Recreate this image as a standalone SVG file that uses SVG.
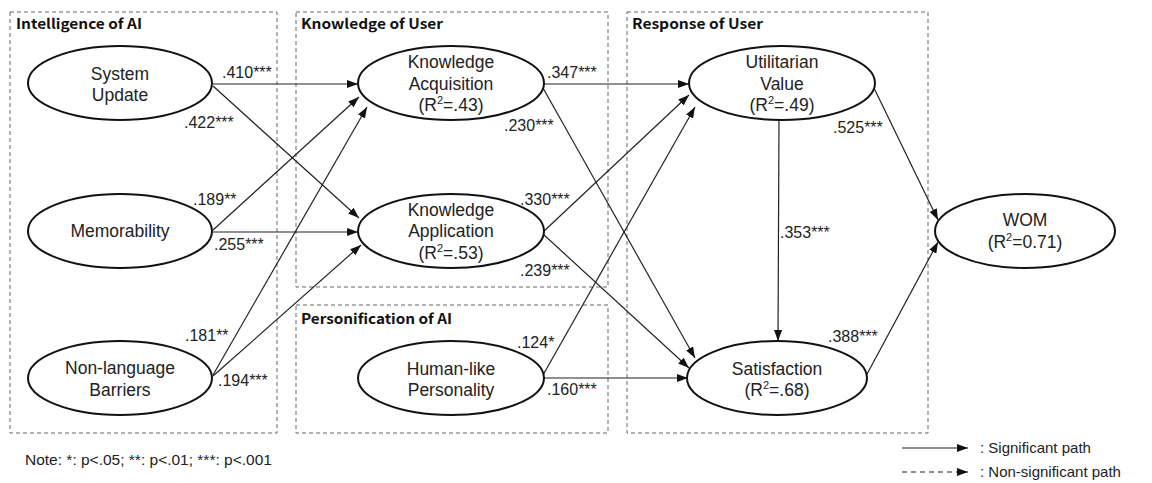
<svg xmlns="http://www.w3.org/2000/svg" width="1152" height="483" viewBox="0 0 1152 483">
  <defs>
    <marker id="arrow" markerUnits="userSpaceOnUse" markerWidth="11" markerHeight="8" refX="11" refY="4" orient="auto">
      <path d="M0,0 L11,4 L0,8 z" fill="#111"/>
    </marker>
    <style>
      .group-box { fill: none; stroke: #666; stroke-width: 1; stroke-dasharray: 4 3; }
      .group-title { font-family: "Noto Sans CJK KR", "Noto Sans", "Liberation Sans", sans-serif; font-weight: bold; font-size: 14px; fill: #111; }
      .node ellipse { fill: #fff; stroke: #111; stroke-width: 2; }
      .node text { font-family: "Liberation Sans", Arial, sans-serif; font-size: 17.5px; fill: #222; text-anchor: middle; }
      .sup { font-size: 11px; }
      .path { stroke: #222; stroke-width: 1.2; fill: none; marker-end: url(#arrow); }
      .path.ns { stroke-dasharray: 5 4; }
      .coef { font-family: "Liberation Sans", Arial, sans-serif; font-size: 16px; fill: #222; }
      .note { font-family: "Liberation Sans", Arial, sans-serif; font-size: 15.5px; fill: #222; }
      .legend-text { font-family: "Liberation Sans", Arial, sans-serif; font-size: 15px; fill: #222; }
    </style>
  </defs>

  <rect width="1152" height="483" fill="#fff"/>

  <!-- construct groupings -->
  <g id="groups">
    <rect class="group-box" x="10" y="12" width="267" height="421"/>
    <text class="group-title" x="16" y="29" textLength="126" lengthAdjust="spacingAndGlyphs">Intelligence of AI</text>
    <rect class="group-box" x="296" y="12" width="312" height="275"/>
    <text class="group-title" x="301" y="29" textLength="142" lengthAdjust="spacingAndGlyphs">Knowledge of User</text>
    <rect class="group-box" x="296" y="305" width="312" height="128"/>
    <text class="group-title" x="301" y="324" textLength="151" lengthAdjust="spacingAndGlyphs">Personification of AI</text>
    <rect class="group-box" x="627" y="12" width="301" height="421"/>
    <text class="group-title" x="632" y="29" textLength="131" lengthAdjust="spacingAndGlyphs">Response of User</text>
  </g>

  <!-- structural paths -->
  <g id="connectors">
    <line class="path" x1="213" y1="84" x2="358" y2="84"/>
    <line class="path" x1="213" y1="86" x2="359" y2="218"/>
    <line class="path" x1="213" y1="230" x2="359" y2="97"/>
    <line class="path" x1="213" y1="232" x2="358" y2="232"/>
    <line class="path" x1="213" y1="375" x2="367" y2="107"/>
    <line class="path" x1="213" y1="376" x2="361" y2="245"/>
    <line class="path" x1="543" y1="84" x2="689" y2="84"/>
    <line class="path" x1="543" y1="88" x2="695" y2="358"/>
    <line class="path" x1="543" y1="232" x2="689" y2="95"/>
    <line class="path" x1="543" y1="234" x2="689" y2="368"/>
    <line class="path" x1="543" y1="375" x2="695" y2="107"/>
    <line class="path" x1="543" y1="378" x2="688" y2="378"/>
    <line class="path" x1="779" y1="120" x2="778" y2="341"/>
    <line class="path" x1="874" y1="88" x2="938" y2="220"/>
    <line class="path" x1="866" y1="376" x2="938" y2="242"/>
  </g>

  <!-- path coefficients -->
  <g id="coefficients" class="coef">
    <text x="222" y="78">.410***</text>
    <text x="184" y="128">.422***</text>
    <text x="193" y="205">.189**</text>
    <text x="214" y="250">.255***</text>
    <text x="185" y="341">.181**</text>
    <text x="218" y="386">.194***</text>
    <text x="547" y="78">.347***</text>
    <text x="504" y="131">.230***</text>
    <text x="520" y="205">.330***</text>
    <text x="520" y="276">.239***</text>
    <text x="517" y="348">.124*</text>
    <text x="547" y="395">.160***</text>
    <text x="833" y="133">.525***</text>
    <text x="780" y="238">.353***</text>
    <text x="828" y="342">.388***</text>
  </g>

  <g id="system-update" class="node">
    <ellipse cx="120" cy="83" rx="92" ry="37"/>
    <text x="120" y="80">System</text>
    <text x="120" y="101">Update</text>
  </g>
  <g id="memorability" class="node">
    <ellipse cx="120" cy="231" rx="92" ry="37"/>
    <text x="120" y="237">Memorability</text>
  </g>
  <g id="non-language-barriers" class="node">
    <ellipse cx="120" cy="378" rx="92" ry="37"/>
    <text x="120" y="374">Non-language</text>
    <text x="120" y="396">Barriers</text>
  </g>
  <g id="knowledge-acquisition" class="node">
    <ellipse cx="451" cy="83" rx="93" ry="37"/>
    <text x="451" y="68">Knowledge</text>
    <text x="451" y="90">Acquisition</text>
    <text x="451" y="111">(R<tspan class="sup" dy="-7">2</tspan><tspan dy="7">=.43)</tspan></text>
  </g>
  <g id="knowledge-application" class="node">
    <ellipse cx="451" cy="231" rx="93" ry="37"/>
    <text x="451" y="216">Knowledge</text>
    <text x="451" y="237">Application</text>
    <text x="451" y="259">(R<tspan class="sup" dy="-7">2</tspan><tspan dy="7">=.53)</tspan></text>
  </g>
  <g id="human-like-personality" class="node">
    <ellipse cx="451" cy="378" rx="93" ry="37"/>
    <text x="451" y="375">Human-like</text>
    <text x="451" y="396">Personality</text>
  </g>
  <g id="utilitarian-value" class="node">
    <ellipse cx="782" cy="83" rx="93" ry="37"/>
    <text x="782" y="68">Utilitarian</text>
    <text x="782" y="90">Value</text>
    <text x="782" y="111">(R<tspan class="sup" dy="-7">2</tspan><tspan dy="7">=.49)</tspan></text>
  </g>
  <g id="satisfaction" class="node">
    <ellipse cx="777" cy="378" rx="90" ry="37"/>
    <text x="777" y="375">Satisfaction</text>
    <text x="777" y="396">(R<tspan class="sup" dy="-7">2</tspan><tspan dy="7">=.68)</tspan></text>
  </g>
  <g id="wom" class="node">
    <ellipse cx="1025" cy="231" rx="90" ry="37"/>
    <text x="1025" y="226">WOM</text>
    <text x="1025" y="248">(R<tspan class="sup" dy="-7">2</tspan><tspan dy="7">=0.71)</tspan></text>
  </g>

  <g id="note">
    <text class="note" x="25" y="465">Note: *: p&lt;.05; **: p&lt;.01; ***: p&lt;.001</text>
  </g>

  <g id="legend">
    <line class="path" x1="902" y1="448" x2="968" y2="448"/>
    <text class="legend-text" x="980" y="453">: Significant path</text>
    <line class="path ns" x1="902" y1="472" x2="968" y2="472"/>
    <text class="legend-text" x="980" y="477">: Non-significant path</text>
  </g>
</svg>
